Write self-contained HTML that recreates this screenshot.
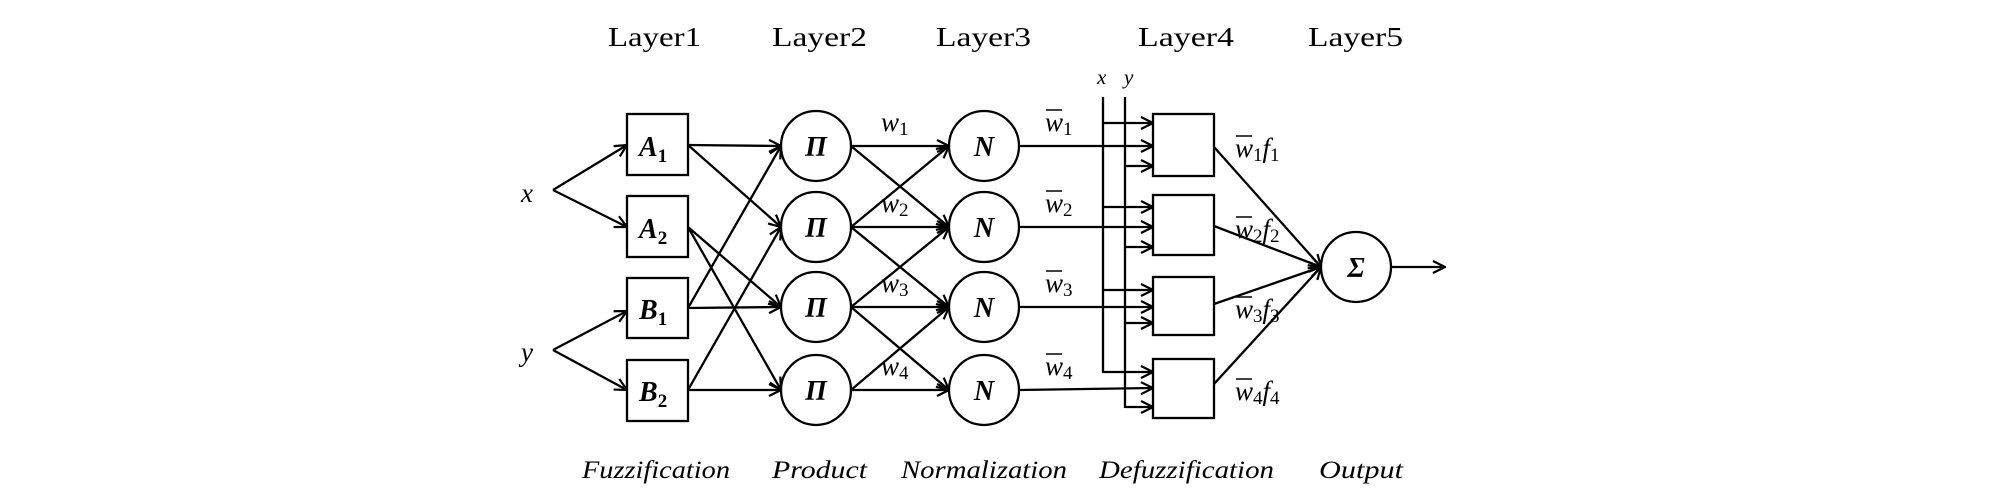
<!DOCTYPE html>
<html><head><meta charset="utf-8"><style>
html,body{margin:0;padding:0;background:#fff;}
svg{display:block;}
text{font-family:"Liberation Serif",serif;fill:#000;}
.t{font-size:27px;}
.b{font-size:25px;font-style:italic;}
.n{font-size:28px;font-style:italic;font-weight:bold;}
.s{font-size:19px;font-style:normal;}
.w{font-size:27px;font-style:italic;}
</style></head><body>
<svg width="2008" height="495" viewBox="0 0 2008 495" xmlns="http://www.w3.org/2000/svg">
<defs>
<marker id="a" viewBox="0 0 14 14" refX="13" refY="7" markerWidth="14" markerHeight="14" markerUnits="userSpaceOnUse" orient="auto">
<path d="M1,1 L13,7 L1,13" fill="none" stroke="#000" stroke-width="2.2"/>
</marker>
</defs>
<g stroke="#000" stroke-width="2.3" fill="none">
<line x1="553" y1="190" x2="627" y2="145" marker-end="url(#a)"/>
<line x1="553" y1="190" x2="627" y2="227" marker-end="url(#a)"/>
<line x1="553" y1="350" x2="627" y2="311" marker-end="url(#a)"/>
<line x1="553" y1="350" x2="627" y2="390" marker-end="url(#a)"/>
<rect x="627" y="114" width="61" height="61"/>
<rect x="627" y="196" width="61" height="61"/>
<rect x="627" y="278" width="61" height="60"/>
<rect x="627" y="360" width="61" height="61"/>
<line x1="688" y1="145" x2="781" y2="146" marker-end="url(#a)"/>
<line x1="688" y1="145" x2="781" y2="227" marker-end="url(#a)"/>
<line x1="688" y1="227" x2="781" y2="307" marker-end="url(#a)"/>
<line x1="688" y1="227" x2="781" y2="390" marker-end="url(#a)"/>
<line x1="688" y1="308" x2="781" y2="146" marker-end="url(#a)"/>
<line x1="688" y1="308" x2="781" y2="307" marker-end="url(#a)"/>
<line x1="688" y1="390" x2="781" y2="227" marker-end="url(#a)"/>
<line x1="688" y1="390" x2="781" y2="390" marker-end="url(#a)"/>
<circle cx="816" cy="146" r="35"/>
<circle cx="816" cy="227" r="35"/>
<circle cx="816" cy="307" r="35"/>
<circle cx="816" cy="390" r="35"/>
<line x1="851" y1="146" x2="949" y2="146" marker-end="url(#a)"/>
<line x1="851" y1="146" x2="949" y2="227" marker-end="url(#a)"/>
<line x1="851" y1="227" x2="949" y2="146" marker-end="url(#a)"/>
<line x1="851" y1="227" x2="949" y2="227" marker-end="url(#a)"/>
<line x1="851" y1="227" x2="949" y2="307" marker-end="url(#a)"/>
<line x1="851" y1="307" x2="949" y2="227" marker-end="url(#a)"/>
<line x1="851" y1="307" x2="949" y2="307" marker-end="url(#a)"/>
<line x1="851" y1="307" x2="949" y2="390" marker-end="url(#a)"/>
<line x1="851" y1="390" x2="949" y2="307" marker-end="url(#a)"/>
<line x1="851" y1="390" x2="949" y2="390" marker-end="url(#a)"/>
<circle cx="984" cy="146" r="35"/>
<circle cx="984" cy="227" r="35"/>
<circle cx="984" cy="307" r="35"/>
<circle cx="984" cy="390" r="35"/>
<line x1="1019" y1="146" x2="1153" y2="146" marker-end="url(#a)"/>
<line x1="1019" y1="227" x2="1153" y2="227" marker-end="url(#a)"/>
<line x1="1019" y1="307" x2="1153" y2="307" marker-end="url(#a)"/>
<line x1="1019" y1="390" x2="1153" y2="388" marker-end="url(#a)"/>
<line x1="1103" y1="97" x2="1103" y2="373"/>
<line x1="1125" y1="97" x2="1125" y2="408"/>
<line x1="1103" y1="123" x2="1153" y2="123" marker-end="url(#a)"/>
<line x1="1103" y1="207" x2="1153" y2="207" marker-end="url(#a)"/>
<line x1="1103" y1="290" x2="1153" y2="290" marker-end="url(#a)"/>
<line x1="1103" y1="372" x2="1153" y2="372" marker-end="url(#a)"/>
<line x1="1125" y1="166" x2="1153" y2="166" marker-end="url(#a)"/>
<line x1="1125" y1="247" x2="1153" y2="247" marker-end="url(#a)"/>
<line x1="1125" y1="323" x2="1153" y2="323" marker-end="url(#a)"/>
<line x1="1125" y1="407" x2="1153" y2="407" marker-end="url(#a)"/>
<rect x="1153" y="114" width="61" height="62"/>
<rect x="1153" y="195" width="61" height="60"/>
<rect x="1153" y="277" width="61" height="58"/>
<rect x="1153" y="359" width="61" height="59"/>
<line x1="1214" y1="147" x2="1321" y2="267" marker-end="url(#a)"/>
<line x1="1214" y1="226" x2="1321" y2="267" marker-end="url(#a)"/>
<line x1="1214" y1="304" x2="1321" y2="267" marker-end="url(#a)"/>
<line x1="1214" y1="384" x2="1321" y2="267" marker-end="url(#a)"/>
<circle cx="1356" cy="267" r="35"/>
<line x1="1391" y1="267" x2="1445" y2="267" marker-end="url(#a)"/>
</g>
<text class="t" x="608" y="46" textLength="93" lengthAdjust="spacingAndGlyphs">Layer1</text>
<text class="t" x="772" y="46" textLength="95" lengthAdjust="spacingAndGlyphs">Layer2</text>
<text class="t" x="936" y="46" textLength="95" lengthAdjust="spacingAndGlyphs">Layer3</text>
<text class="t" x="1138" y="46" textLength="96" lengthAdjust="spacingAndGlyphs">Layer4</text>
<text class="t" x="1308" y="46" textLength="95" lengthAdjust="spacingAndGlyphs">Layer5</text>
<text class="b" x="582" y="478" textLength="148" lengthAdjust="spacingAndGlyphs">Fuzzification</text>
<text class="b" x="772" y="478" textLength="95" lengthAdjust="spacingAndGlyphs">Product</text>
<text class="b" x="901" y="478" textLength="166" lengthAdjust="spacingAndGlyphs">Normalization</text>
<text class="b" x="1099" y="478" textLength="175" lengthAdjust="spacingAndGlyphs">Defuzzification</text>
<text class="b" x="1319" y="478" textLength="84" lengthAdjust="spacingAndGlyphs">Output</text>
<text class="w" x="521" y="202">x</text>
<text class="w" x="521" y="361">y</text>
<text class="w" x="1097" y="84" style="font-size:21px">x</text>
<text class="w" x="1124" y="84" style="font-size:21px">y</text>
<text class="n" x="639" y="156">A<tspan class="s" dy="6" font-weight="bold">1</tspan></text>
<text class="n" x="639" y="238">A<tspan class="s" dy="6" font-weight="bold">2</tspan></text>
<text class="n" x="639" y="319">B<tspan class="s" dy="6" font-weight="bold">1</tspan></text>
<text class="n" x="639" y="401">B<tspan class="s" dy="6" font-weight="bold">2</tspan></text>
<text class="n" x="816" y="156" text-anchor="middle">Π</text>
<text class="n" x="816" y="237" text-anchor="middle">Π</text>
<text class="n" x="816" y="317" text-anchor="middle">Π</text>
<text class="n" x="816" y="400" text-anchor="middle">Π</text>
<text class="n" x="984" y="156" text-anchor="middle">N</text>
<text class="n" x="984" y="237" text-anchor="middle">N</text>
<text class="n" x="984" y="317" text-anchor="middle">N</text>
<text class="n" x="984" y="400" text-anchor="middle">N</text>
<text class="n" x="1356" y="277" text-anchor="middle">Σ</text>
<text class="w" x="881" y="131">w<tspan class="s" dy="4">1</tspan></text>
<text class="w" x="881" y="212">w<tspan class="s" dy="4">2</tspan></text>
<text class="w" x="881" y="292">w<tspan class="s" dy="4">3</tspan></text>
<text class="w" x="881" y="375">w<tspan class="s" dy="4">4</tspan></text>
<g stroke="#000" stroke-width="1.5">
<line x1="1046" y1="110" x2="1062" y2="110"/>
<line x1="1046" y1="191" x2="1062" y2="191"/>
<line x1="1046" y1="271" x2="1062" y2="271"/>
<line x1="1046" y1="354" x2="1062" y2="354"/>
<line x1="1236" y1="136" x2="1252" y2="136"/>
<line x1="1236" y1="217" x2="1252" y2="217"/>
<line x1="1236" y1="297" x2="1252" y2="297"/>
<line x1="1236" y1="379" x2="1252" y2="379"/>
</g>
<text class="w" x="1045" y="131">w<tspan class="s" dy="4">1</tspan></text>
<text class="w" x="1045" y="212">w<tspan class="s" dy="4">2</tspan></text>
<text class="w" x="1045" y="292">w<tspan class="s" dy="4">3</tspan></text>
<text class="w" x="1045" y="375">w<tspan class="s" dy="4">4</tspan></text>
<text class="w" x="1235" y="157">w<tspan class="s" dy="4">1</tspan><tspan dy="-4">f</tspan><tspan class="s" dy="4">1</tspan></text>
<text class="w" x="1235" y="238">w<tspan class="s" dy="4">2</tspan><tspan dy="-4">f</tspan><tspan class="s" dy="4">2</tspan></text>
<text class="w" x="1235" y="318">w<tspan class="s" dy="4">3</tspan><tspan dy="-4">f</tspan><tspan class="s" dy="4">3</tspan></text>
<text class="w" x="1235" y="400">w<tspan class="s" dy="4">4</tspan><tspan dy="-4">f</tspan><tspan class="s" dy="4">4</tspan></text>
</svg>
</body></html>
